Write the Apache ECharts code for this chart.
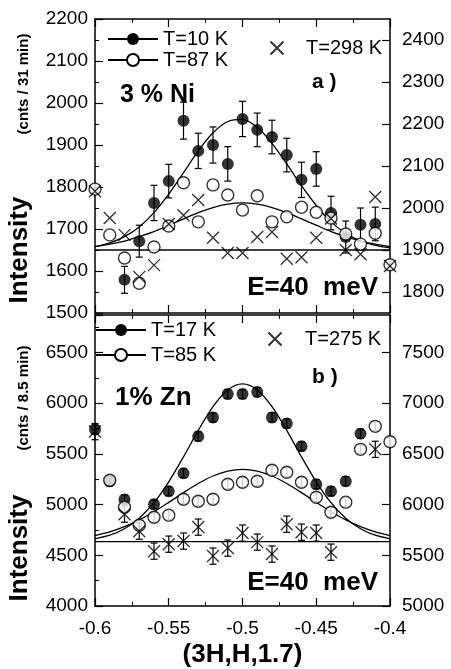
<!DOCTYPE html>
<html>
<head>
<meta charset="utf-8">
<script src="https://cdn.jsdelivr.net/npm/echarts@6/dist/echarts.min.js"></script>
<style>
  html, body { margin: 0; padding: 0; background: #fff; }
  #chart { width: 451px; height: 669px; }
</style>
</head>
<body>
<div id="chart"></div>
<script>
// ---- panel a) 3 % Ni ----
const hA10 = [-0.58, -0.57, -0.56, -0.55, -0.54, -0.53, -0.52, -0.51, -0.50, -0.49, -0.48, -0.47, -0.46, -0.45, -0.44, -0.43, -0.42, -0.41];
const vA10 = [1579, 1671, 1762, 1814, 1958, 1886, 1900, 1855, 1962, 1936, 1919, 1876, 1817, 1843, 1738, 1681, 1710, 1712];
const eA10 = [32, 38, 42, 40, 44, 42, 43, 41, 42, 40, 40, 40, 42, 41, 40, 38, 40, 40];

const hA87 = [-0.60, -0.59, -0.58, -0.57, -0.56, -0.55, -0.54, -0.53, -0.52, -0.51, -0.50, -0.49, -0.48, -0.47, -0.46, -0.45, -0.44, -0.43, -0.42, -0.41, -0.40];
const vA87 = [1795, 1686, 1631, 1571, 1657, 1707, 1810, 1717, 1805, 1781, 1745, 1779, 1717, 1729, 1752, 1740, 1726, 1688, 1664, 1690, 1615];

// T=298 K uses the right axis
const hA298 = [-0.60, -0.59, -0.58, -0.57, -0.56, -0.55, -0.54, -0.53, -0.52, -0.51, -0.50, -0.49, -0.48, -0.47, -0.46, -0.45, -0.44, -0.43, -0.42, -0.41, -0.40];
const vA298 = [2040, 1976, 1936, 1836, 1864, 1962, 1983, 2019, 1929, 1893, 1893, 1931, 1943, 1879, 1883, 1929, 1975, 1900, 1890, 2026, 1862];

// fit curves
const curveH = [-0.60, -0.59, -0.58, -0.57, -0.56, -0.55, -0.54, -0.53, -0.52, -0.51, -0.50, -0.49, -0.48, -0.47, -0.46, -0.45, -0.44, -0.43, -0.42, -0.41, -0.40];
const cA10 = [1658, 1667, 1682, 1705, 1739, 1783, 1834, 1886, 1929, 1956, 1961, 1942, 1904, 1855, 1803, 1756, 1717, 1690, 1672, 1661, 1655];
const cA87 = [1658, 1664, 1671, 1682, 1694, 1709, 1724, 1739, 1751, 1759, 1762, 1759, 1751, 1739, 1724, 1709, 1694, 1682, 1671, 1664, 1658];
const baseA = 1650;

// ---- panel b) 1% Zn ----
const hB17 = [-0.60, -0.59, -0.58, -0.56, -0.55, -0.54, -0.53, -0.52, -0.51, -0.50, -0.49, -0.48, -0.47, -0.46, -0.45, -0.44, -0.43, -0.42];
const vB17 = [5740, 5230, 5050, 5004, 5132, 5310, 5673, 5860, 6090, 6090, 6110, 5860, 5801, 5575, 5201, 5132, 5230, 5700];
const eB17 = [45, 45, 45, 45, 45, 45, 45, 45, 45, 45, 45, 45, 45, 45, 45, 45, 45, 45];

const hB85 = [-0.59, -0.58, -0.57, -0.56, -0.55, -0.54, -0.53, -0.52, -0.51, -0.50, -0.49, -0.48, -0.47, -0.46, -0.45, -0.44, -0.43, -0.42, -0.41, -0.40];
const vB85 = [5240, 4974, 4797, 4876, 4896, 5053, 5033, 5053, 5201, 5220, 5230, 5339, 5319, 5220, 5073, 4925, 5024, 5545, 5772, 5620];
const eB85 = [45, 45, 45, 45, 45, 45, 45, 45, 45, 45, 45, 45, 45, 45, 45, 45, 45, 45, 45, 45];

// T=275 K uses the right axis
const hB275 = [-0.60, -0.58, -0.57, -0.56, -0.55, -0.54, -0.53, -0.52, -0.51, -0.50, -0.49, -0.48, -0.47, -0.46, -0.45, -0.44, -0.41];
const vB275 = [6720, 5906, 5738, 5541, 5610, 5640, 5778, 5492, 5571, 5719, 5630, 5512, 5807, 5728, 5719, 5531, 6545];
const eB275 = [80, 80, 80, 80, 80, 80, 80, 80, 80, 80, 80, 80, 80, 80, 80, 80, 80];

const cB17 = [4663, 4698, 4762, 4866, 5019, 5225, 5471, 5732, 5967, 6131, 6190, 6131, 5967, 5732, 5471, 5225, 5019, 4866, 4762, 4698, 4663];
const cB85 = [4695, 4732, 4783, 4850, 4930, 5022, 5118, 5208, 5282, 5331, 5348, 5331, 5282, 5208, 5118, 5022, 4930, 4850, 4783, 4732, 4695];
const baseB = 4635;

// tick labels
const xTicks = [-0.6, -0.55, -0.5, -0.45, -0.4];
const rightTicksA = [1800, 1900, 2000, 2100, 2200, 2300, 2400];

const FONT = 'Liberation Sans';
const crossPath = 'path://M0,0L10,10M10,0L0,10';

function zip(xs, ys) {
  return xs.map((x, i) => [x, ys[i]]);
}
function errData(xs, ys, es) {
  return xs.map((x, i) => [x, ys[i] - es[i], ys[i] + es[i]]);
}
function errRender(params, api) {
  const x = api.value(0);
  const p1 = api.coord([x, api.value(2)]);
  const p2 = api.coord([x, api.value(1)]);
  const w = 3.5;
  const st = {stroke: '#000', lineWidth: 1.2};
  return {
    type: 'group',
    children: [
      {type: 'line', shape: {x1: p1[0], y1: p1[1], x2: p2[0], y2: p2[1]}, style: st},
      {type: 'line', shape: {x1: p1[0] - w, y1: p1[1], x2: p1[0] + w, y2: p1[1]}, style: st},
      {type: 'line', shape: {x1: p2[0] - w, y1: p2[1], x2: p2[0] + w, y2: p2[1]}, style: st}
    ]
  };
}

const axisLine = {lineStyle: {color: '#000', width: 1.5}};
const plain = v => String(v);

function xAx(grid, pos, labels) {
  return {
    type: 'value', gridIndex: grid, position: pos,
    min: -0.6, max: -0.4, interval: 0.05,
    axisLine: Object.assign({onZero: false}, axisLine),
    axisTick: {inside: true, length: 8, lineStyle: {color: '#000', width: 1.2}},
    minorTick: {show: true, splitNumber: 2, length: 4, lineStyle: {color: '#000', width: 1}},
    splitLine: {show: false},
    axisLabel: {
      show: labels, margin: 13, fontSize: 19, color: '#000', fontFamily: FONT,
      formatter: v => (xTicks.some(t => Math.abs(t - v) < 1e-6) ? String(Number(v.toFixed(2))) : '')
    },
    name: labels ? '(3H,H,1.7)' : '',
    nameLocation: 'middle', nameGap: 36,
    nameTextStyle: {fontSize: 26, fontWeight: 'bold', color: '#000', fontFamily: FONT}
  };
}

const chart = echarts.init(document.getElementById('chart'));

const option = {
  backgroundColor: '#fff',
  animation: false,
  grid: [
    {left: 95, right: 61, top: 19, height: 294},
    {left: 95, right: 61, top: 315, height: 292}
  ],
  xAxis: [xAx(0, 'bottom', false), xAx(0, 'top', false), xAx(1, 'bottom', true), xAx(1, 'top', false)],
  yAxis: [
    {
      type: 'value', gridIndex: 0, position: 'left', min: 1500, max: 2200, interval: 100,
      axisLine: axisLine,
      axisTick: {inside: true, length: 8, lineStyle: {color: '#000', width: 1.2}},
      minorTick: {show: true, splitNumber: 2, length: 4, lineStyle: {color: '#000'}},
      splitLine: {show: false},
      axisLabel: {margin: 7, fontSize: 19, color: '#000', fontFamily: FONT, formatter: plain}
    },
    {
      type: 'value', gridIndex: 0, position: 'right', min: 1750, max: 2450,
      axisLine: axisLine,
      axisTick: {inside: true, length: 8, customValues: rightTicksA, lineStyle: {color: '#000', width: 1.2}},
      splitLine: {show: false},
      axisLabel: {margin: 12, fontSize: 19, color: '#000', fontFamily: FONT, customValues: rightTicksA, formatter: plain}
    },
    {
      type: 'value', gridIndex: 1, position: 'left', min: 4000, max: 6870, interval: 500,
      axisLine: axisLine,
      axisTick: {inside: true, length: 8, lineStyle: {color: '#000', width: 1.2}},
      minorTick: {show: true, splitNumber: 2, length: 4, lineStyle: {color: '#000'}},
      splitLine: {show: false},
      axisLabel: {margin: 7, fontSize: 19, color: '#000', fontFamily: FONT, showMaxLabel: false, formatter: plain}
    },
    {
      type: 'value', gridIndex: 1, position: 'right', min: 5000, max: 7870, interval: 500,
      axisLine: axisLine,
      axisTick: {inside: true, length: 8, lineStyle: {color: '#000', width: 1.2}},
      splitLine: {show: false},
      axisLabel: {margin: 12, fontSize: 19, color: '#000', fontFamily: FONT, showMaxLabel: false, formatter: plain}
    }
  ],
  legend: [
    {
      data: ['T=10 K', 'T=87 K'], orient: 'vertical', left: 107, top: 29, padding: 0,
      itemWidth: 50, itemHeight: 15, itemGap: 1, selectedMode: false,
      textStyle: {fontSize: 20, color: '#000', fontFamily: FONT, lineHeight: 20}
    },
    {
      data: ['T=298 K'], left: 268, top: 38, padding: 0,
      itemWidth: 48, itemHeight: 13, selectedMode: false,
      textStyle: {fontSize: 20, color: '#000', fontFamily: FONT}
    },
    {
      data: ['T=17 K', 'T=85 K'], orient: 'vertical', left: 95, top: 320, padding: 0,
      itemWidth: 50, itemHeight: 15, itemGap: 5, selectedMode: false,
      textStyle: {fontSize: 20, color: '#000', fontFamily: FONT, lineHeight: 20}
    },
    {
      data: ['T=275 K'], left: 266, top: 329, padding: 0,
      itemWidth: 50, itemHeight: 13, selectedMode: false,
      textStyle: {fontSize: 20, color: '#000', fontFamily: FONT}
    }
  ],
  graphic: [
    {type: 'text', x: 20, y: 250, rotation: Math.PI / 2,
      style: {text: 'Intensity', fontSize: 26, fontWeight: 'bold', fontFamily: FONT, fill: '#000', align: 'center', verticalAlign: 'middle'}},
    {type: 'text', x: 24, y: 84, rotation: Math.PI / 2,
      style: {text: '(cnts / 31 min)', fontSize: 15, fontWeight: 'bold', fontFamily: FONT, fill: '#000', align: 'center', verticalAlign: 'middle'}},
    {type: 'text', x: 20, y: 548, rotation: Math.PI / 2,
      style: {text: 'Intensity', fontSize: 26, fontWeight: 'bold', fontFamily: FONT, fill: '#000', align: 'center', verticalAlign: 'middle'}},
    {type: 'text', x: 24, y: 398, rotation: Math.PI / 2,
      style: {text: '(cnts / 8.5 min)', fontSize: 15, fontWeight: 'bold', fontFamily: FONT, fill: '#000', align: 'center', verticalAlign: 'middle'}},
    {type: 'text', x: 120, y: 95,
      style: {text: '3 % Ni', fontSize: 25, fontWeight: 'bold', fontFamily: FONT, fill: '#000', verticalAlign: 'middle'}},
    {type: 'text', x: 312, y: 82,
      style: {text: 'a )', fontSize: 21, fontWeight: 'bold', fontFamily: FONT, fill: '#000', verticalAlign: 'middle'}},
    {type: 'text', x: 378, y: 288,
      style: {text: 'E=40  meV', fontSize: 26, fontWeight: 'bold', fontFamily: FONT, fill: '#000', align: 'right', verticalAlign: 'middle'}},
    {type: 'text', x: 115, y: 398,
      style: {text: '1% Zn', fontSize: 26, fontWeight: 'bold', fontFamily: FONT, fill: '#000', verticalAlign: 'middle'}},
    {type: 'text', x: 312, y: 377,
      style: {text: 'b )', fontSize: 21, fontWeight: 'bold', fontFamily: FONT, fill: '#000', verticalAlign: 'middle'}},
    {type: 'text', x: 378, y: 583,
      style: {text: 'E=40  meV', fontSize: 26, fontWeight: 'bold', fontFamily: FONT, fill: '#000', align: 'right', verticalAlign: 'middle'}}
  ],
  series: [
    // ---- panel a ----
    {name: 'T=10 K', type: 'line', xAxisIndex: 0, yAxisIndex: 0, data: zip(curveH, cA10), smooth: 0.3,
      showSymbol: false, symbol: 'circle', itemStyle: {color: '#000'}, lineStyle: {color: '#000', width: 1.3}, silent: true},
    {name: 'T=87 K', type: 'line', xAxisIndex: 0, yAxisIndex: 0, data: zip(curveH, cA87), smooth: 0.3,
      showSymbol: false, symbol: 'emptyCircle', itemStyle: {color: '#000'}, lineStyle: {color: '#000', width: 1.3}, silent: true},
    {name: 'base a', type: 'line', xAxisIndex: 0, yAxisIndex: 0, data: [[-0.6, baseA], [-0.4, baseA]],
      showSymbol: false, lineStyle: {color: '#000', width: 1.3}, silent: true},
    {name: 'err a', type: 'custom', xAxisIndex: 0, yAxisIndex: 0, renderItem: errRender,
      encode: {x: 0, y: [1, 2]}, data: errData(hA10, vA10, eA10), silent: true},
    {name: 'T=10 K pts', type: 'scatter', xAxisIndex: 0, yAxisIndex: 0, data: zip(hA10, vA10),
      symbol: 'circle', symbolSize: 12, itemStyle: {color: '#000'}, z: 4},
    {name: 'T=87 K pts', type: 'scatter', xAxisIndex: 0, yAxisIndex: 0, data: zip(hA87, vA87),
      symbol: 'circle', symbolSize: 12, itemStyle: {color: '#fff', borderColor: '#000', borderWidth: 1.4}, z: 5},
    {name: 'T=298 K', type: 'scatter', xAxisIndex: 0, yAxisIndex: 1, data: zip(hA298, vA298),
      symbol: crossPath, symbolSize: 12, itemStyle: {color: 'none', borderColor: '#000', borderWidth: 1.4}, z: 6},

    // ---- panel b ----
    {name: 'T=17 K', type: 'line', xAxisIndex: 2, yAxisIndex: 2, data: zip(curveH, cB17), smooth: 0.3,
      showSymbol: false, symbol: 'circle', itemStyle: {color: '#000'}, lineStyle: {color: '#000', width: 1.3}, silent: true},
    {name: 'T=85 K', type: 'line', xAxisIndex: 2, yAxisIndex: 2, data: zip(curveH, cB85), smooth: 0.3,
      showSymbol: false, symbol: 'emptyCircle', itemStyle: {color: '#000'}, lineStyle: {color: '#000', width: 1.3}, silent: true},
    {name: 'base b', type: 'line', xAxisIndex: 2, yAxisIndex: 2, data: [[-0.6, baseB], [-0.4, baseB]],
      showSymbol: false, lineStyle: {color: '#000', width: 1.3}, silent: true},
    {name: 'err b17', type: 'custom', xAxisIndex: 2, yAxisIndex: 2, renderItem: errRender,
      encode: {x: 0, y: [1, 2]}, data: errData(hB17, vB17, eB17), silent: true},
    {name: 'err b85', type: 'custom', xAxisIndex: 2, yAxisIndex: 2, renderItem: errRender,
      encode: {x: 0, y: [1, 2]}, data: errData(hB85, vB85, eB85), silent: true},
    {name: 'err b275', type: 'custom', xAxisIndex: 2, yAxisIndex: 3, renderItem: errRender,
      encode: {x: 0, y: [1, 2]}, data: errData(hB275, vB275, eB275), silent: true},
    {name: 'T=17 K pts', type: 'scatter', xAxisIndex: 2, yAxisIndex: 2, data: zip(hB17, vB17),
      symbol: 'circle', symbolSize: 12, itemStyle: {color: '#000'}, z: 4},
    {name: 'T=85 K pts', type: 'scatter', xAxisIndex: 2, yAxisIndex: 2, data: zip(hB85, vB85),
      symbol: 'circle', symbolSize: 12, itemStyle: {color: '#fff', borderColor: '#000', borderWidth: 1.4}, z: 5},
    {name: 'T=275 K', type: 'scatter', xAxisIndex: 2, yAxisIndex: 3, data: zip(hB275, vB275),
      symbol: crossPath, symbolSize: 12, itemStyle: {color: 'none', borderColor: '#000', borderWidth: 1.4}, z: 6}
  ]
};

chart.setOption(option);
</script>
</body>
</html>
